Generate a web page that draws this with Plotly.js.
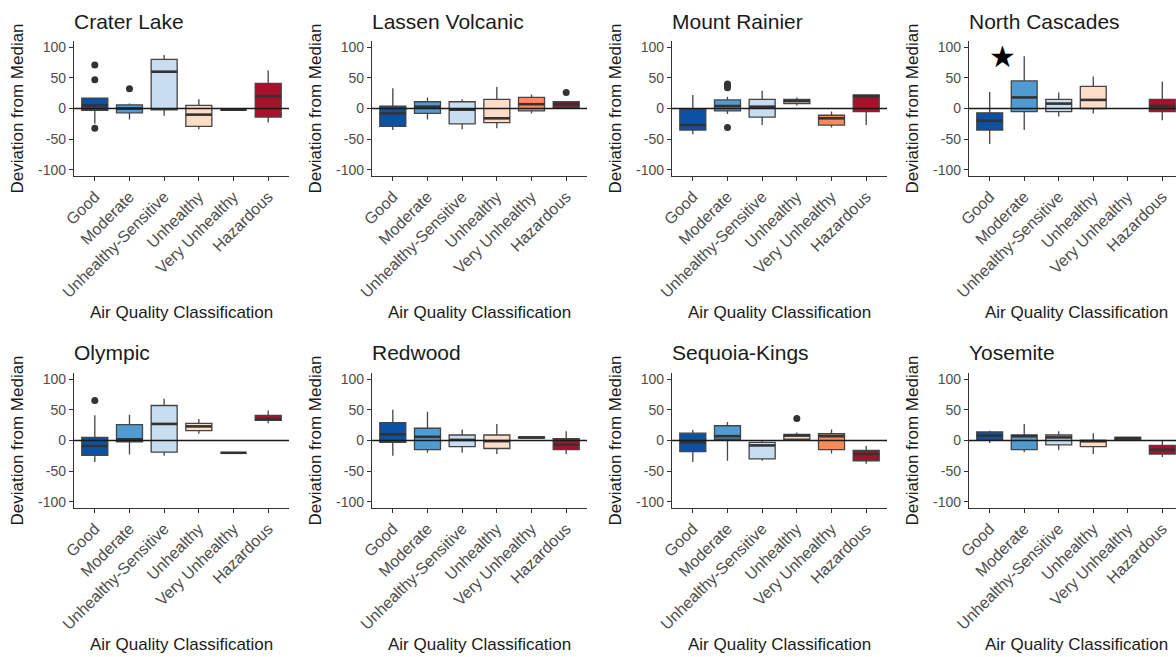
<!DOCTYPE html>
<html>
<head>
<meta charset="utf-8">
<script src="https://cdn.plot.ly/plotly-3.0.1.min.js"></script>
<style>
  html, body { margin: 0; padding: 0; background: #ffffff; }
  #chart { width: 1176px; height: 657px; }
</style>
</head>
<body>
<div id="chart"></div>
<script>
// ---------------- DATA ----------------
const categories = ["Good", "Moderate", "Unhealthy-Sensitive", "Unhealthy", "Very Unhealthy", "Hazardous"];
const boxColors = ["#0B52A5", "#4F9BD2", "#C9DDF0", "#FDDCC8", "#FA8C5C", "#A8112B"];
const parks = ["Crater Lake", "Lassen Volcanic", "Mount Rainier", "North Cascades",
               "Olympic", "Redwood", "Sequoia-Kings", "Yosemite"];
const yTicks = [-100, -50, 0, 50, 100];
const yTickText = ["-100", "-50", "0", "50", "100"];

// each row: [lower whisker, Q1, median, Q3, upper whisker] per category (null = no data)
const craterLake = [[-25, -3, 5, 17, 18], [-18, -7, 0, 6, 8], [-12, -2, 60, 80, 87],
                    [-34, -29, -10, 5, 15], [-2, -2, -2, -2, -2], [-23, -14, 20, 41, 62]];
const craterLakeOutliers = [[71, 47, -32], [32], [], [], [], []];

const lassenVolcanic = [[-35, -29, -8, 4, 33], [-18, -8, 3, 11, 18], [-34, -25, -2, 11, 15],
                        [-32, -23, -16, 15, 35], [-8, -4, 7, 18, 23], [1, 2, 7, 11, 11]];
const lassenVolcanicOutliers = [[], [], [], [], [], [26]];

const mountRainier = [[-42, -35, -27, -1, 22], [-9, -4, 4, 14, 19], [-27, -14, 3, 15, 29],
                      [5, 8, 12, 15, 18], [-31, -27, -16, -11, -5], [-27, -5, 20, 22, 22]];
const mountRainierOutliers = [[], [40, 37, 34, -31], [], [], [], []];

const northCascades = [[-58, -35, -20, -7, 27], [-35, -5, 18, 45, 85], [-13, -5, 8, 15, 26],
                       [-8, 0, 14, 36, 52], null, [-19, -5, 4, 15, 44]];
const northCascadesOutliers = [[], [], [], [], [], []];

const olympic = [[-35, -24, -9, 5, 41], [-23, -2, 2, 26, 42], [-25, -19, 27, 57, 68],
                 [11, 16, 23, 28, 35], [-20, -20, -20, -20, -20], [28, 33, 35, 41, 49]];
const olympicOutliers = [[65], [], [], [], [], []];

const redwood = [[-25, -3, 10, 29, 50], [-20, -15, 6, 20, 47], [-20, -10, 1, 9, 18],
                 [-22, -13, -1, 9, 27], [4, 4, 5, 6, 6], [-22, -15, -7, 3, 15]];
const redwoodOutliers = [[], [], [], [], [], []];

const sequoiaKings = [[-35, -18, -3, 12, 17], [-33, 2, 7, 24, 30], [-33, -30, -8, -3, 0],
                      [2, 2, 8, 10, 13], [-21, -15, 7, 11, 18], [-38, -33, -22, -16, -9]];
const sequoiaKingsOutliers = [[], [], [], [36], [], []];

const yosemite = [[-4, 1, 8, 14, 16], [-19, -15, 7, 9, 27], [-16, -7, 5, 9, 15],
                  [-22, -10, -1, 0, 12], [1, 2, 4, 5, 5], [-27, -22, -15, -8, 0]];
const yosemiteOutliers = [[], [], [], [], [], []];

const parkStats = [craterLake, lassenVolcanic, mountRainier, northCascades,
                   olympic, redwood, sequoiaKings, yosemite];
const parkOutliers = [craterLakeOutliers, lassenVolcanicOutliers, mountRainierOutliers, northCascadesOutliers,
                      olympicOutliers, redwoodOutliers, sequoiaKingsOutliers, yosemiteOutliers];

// ---------------- LAYOUT (pixels) ----------------
const W = 1176, H = 657;
const colLeft = [74, 372, 672, 969];
const colRight = [289, 587, 887, 1183];
const rowTop = [41, 373];
const rowBottom = [176, 508];
const FONT = "Liberation Sans, Arial, sans-serif";
const BOXW = 0.75;

const traces = [];
const layout = {
  width: W, height: H,
  margin: {l: 0, r: 0, t: 0, b: 0},
  paper_bgcolor: "#ffffff", plot_bgcolor: "#ffffff",
  showlegend: false,
  font: {family: FONT, color: "#1a1a1a"},
  annotations: [], shapes: [],
  hovermode: false
};

parks.forEach((park, p) => {
  const col = p % 4, row = Math.floor(p / 4);
  const n = p + 1;
  const xa = "x" + (n === 1 ? "" : n), ya = "y" + (n === 1 ? "" : n);
  const xKey = "xaxis" + (n === 1 ? "" : n), yKey = "yaxis" + (n === 1 ? "" : n);
  const L = colLeft[col], Rfull = colRight[col];
  const R = Math.min(Rfull, W);
  const unit = (Rfull - L) / (categories.length + 0.2);
  const xmax = -0.6 + (R - L) / unit;

  layout[xKey] = {
    domain: [L / W, R / W], range: [-0.6, xmax], anchor: ya,
    tickmode: "array", tickvals: categories.map((c, i) => i), ticktext: categories,
    tickangle: -45, showline: true, linecolor: "#333333", linewidth: 1.2,
    ticks: "outside", ticklen: 4, tickcolor: "#333333", tickwidth: 1.1,
    showgrid: false, zeroline: false, fixedrange: true,
    tickfont: {family: FONT, size: 16, color: "#4d4d4d"}
  };
  layout[yKey] = {
    domain: [1 - rowBottom[row] / H, 1 - rowTop[row] / H], range: [-110, 110], anchor: xa,
    tickmode: "array", tickvals: yTicks, ticktext: yTickText,
    showline: true, linecolor: "#333333", linewidth: 1.2,
    ticks: "outside", ticklen: 4, tickcolor: "#333333", tickwidth: 1.1,
    showgrid: false, zeroline: false, fixedrange: true,
    tickfont: {family: FONT, size: 14, color: "#4d4d4d"}
  };

  const stats = parkStats[p];
  const medX = [], medY = [];
  stats.forEach((s, i) => {
    if (!s) return;
    traces.push({
      type: "box", x: [i], xaxis: xa, yaxis: ya,
      lowerfence: [s[0]], q1: [s[1]], median: [s[2]], q3: [s[3]], upperfence: [s[4]],
      width: BOXW, whiskerwidth: 0, boxpoints: false,
      fillcolor: boxColors[i], line: {color: "#444444", width: 1.3},
      hoverinfo: "skip", showlegend: false
    });
    medX.push(i - BOXW / 2, i + BOXW / 2, null);
    medY.push(s[2], s[2], null);
  });
  // thick median lines
  traces.push({
    type: "scatter", mode: "lines", x: medX, y: medY, xaxis: xa, yaxis: ya,
    line: {color: "#333333", width: 2.6}, hoverinfo: "skip", showlegend: false
  });
  // outliers
  const ox = [], oy = [];
  parkOutliers[p].forEach((arr, i) => arr.forEach(v => { ox.push(i); oy.push(v); }));
  if (ox.length) {
    traces.push({
      type: "scatter", mode: "markers", x: ox, y: oy, xaxis: xa, yaxis: ya,
      marker: {color: "#333333", size: 7}, hoverinfo: "skip", showlegend: false, cliponaxis: false
    });
  }

  // zero reference line on top
  layout.shapes.push({
    type: "line", xref: xa + " domain", yref: ya, x0: 0, x1: 1, y0: 0, y1: 0,
    line: {color: "#1a1a1a", width: 1.4}, layer: "above"
  });

  const midY = (rowTop[row] + rowBottom[row]) / 2;
  // panel title
  layout.annotations.push({
    xref: "paper", yref: "paper", x: (L - 2) / W, y: 1 - (row === 0 ? 21 : 352) / H,
    xanchor: "left", yanchor: "middle", showarrow: false,
    text: park, font: {family: FONT, size: 21, color: "#1a1a1a"}
  });
  // y axis title
  layout.annotations.push({
    xref: "paper", yref: "paper", x: (L - 57) / W, y: 1 - midY / H,
    xanchor: "center", yanchor: "middle", showarrow: false, textangle: -90,
    text: "Deviation from Median", font: {family: FONT, size: 17, color: "#1a1a1a"}
  });
  // x axis title
  layout.annotations.push({
    xref: "paper", yref: "paper", x: ((L + Rfull) / 2) / W, y: 1 - (row === 0 ? 312 : 644) / H,
    xanchor: "center", yanchor: "middle", showarrow: false,
    text: "Air Quality Classification", font: {family: FONT, size: 17, color: "#1a1a1a"}
  });
});

// significance star in North Cascades
layout.annotations.push({
  xref: "x4", yref: "y4", x: 0.38, y: 84, showarrow: false,
  text: "★", font: {family: "DejaVu Sans", size: 30, color: "#000000"}
});

Plotly.newPlot("chart", traces, layout, {staticPlot: true, displayModeBar: false});
</script>
</body>
</html>
